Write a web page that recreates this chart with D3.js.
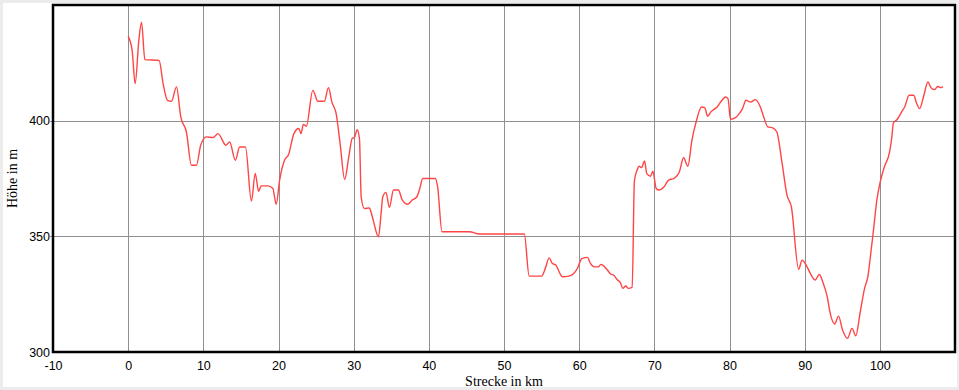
<!DOCTYPE html>
<html><head><meta charset="utf-8">
<script src="https://cdn.jsdelivr.net/npm/d3@7"></script>
<style>
html,body{margin:0;padding:0;background:#ececec;}
svg{display:block;}
</style></head><body>
<svg id="chart" width="959" height="390"></svg>
<script>
// Data
const km = [0,0.53,0.93,1.42,1.78,2.22,4.12,4.65,5.23,5.76,6.43,7.0,7.75,8.42,9.08,9.65,10.4,11.3,11.95,13.0,13.5,14.26,14.83,15.6,16.4,16.9,17.36,17.7,18.6,19.25,19.7,20.15,20.8,21.34,22.05,22.7,23.0,23.3,23.7,24.57,25.23,26.1,26.65,27.1,27.67,28.2,28.8,29.35,29.8,30.1,30.46,30.77,31.0,31.43,32.1,32.3,32.6,33.3,33.65,33.87,34.3,34.75,35.3,35.95,36.44,37.2,37.77,38.4,38.74,39.2,40.86,41.17,41.75,45.4,46.7,52.7,53.35,55.0,55.56,56.0,56.44,56.9,57.33,57.77,58.66,59.3,59.76,60.35,61.1,61.5,62.0,62.55,62.9,63.6,64.2,64.6,65.1,65.5,65.8,66.2,66.5,67.05,67.35,67.7,68.0,68.3,68.7,69.0,69.5,69.8,70.25,70.6,71.3,71.9,72.6,73.3,73.9,74.46,75.0,75.5,76.3,76.7,77.1,77.5,78.35,79.0,79.47,79.8,80.13,80.8,81.23,81.7,82.2,82.8,83.45,84.1,84.55,85.1,85.75,86.3,87.0,87.65,88.23,89.2,89.65,90.2,90.75,91.4,91.95,92.4,93.0,93.4,94.0,94.5,95.04,95.7,96.3,96.8,97.4,97.97,98.4,98.7,99.2,99.6,100.05,100.6,101.3,101.6,101.8,102.3,102.9,103.3,103.9,104.5,104.9,105.3,105.8,106.4,106.8,107.25,107.7,108.15,108.4];
const hoehe = [436.4,430.4,416,434.7,442.6,426.4,426,416,408.8,408.4,414.6,401.6,395.1,380.7,380.7,389.4,393,392.7,394.4,389.4,390.8,382.9,388.6,388.6,365.2,377.2,369.5,371.8,371.8,370.7,363.9,374.3,382.9,385.4,394.4,396.6,394.4,398.4,397.6,413.1,408.4,408.4,414.3,408.1,403,390,374.6,384.3,392.3,392.7,396.1,392.3,367,362,362.3,360.6,357,349.8,359.9,367,369,362.5,370,370,365.9,363.9,365.6,367,370,375,375,371.4,352,352,351,351,332.8,332.8,336.8,340.7,338.3,337.6,334.7,332.5,332.8,334,336.1,340.4,340.9,338.3,336.8,336.8,337.9,336.1,333.7,333.2,331.1,329.9,327.5,328.5,327.5,327.9,374,378.6,380.3,379.7,382.6,377.1,376,378.2,370.7,370,371.4,374.3,375,377.6,384,380.3,391.5,398.7,405.9,405.6,401.9,403.7,405.9,408.8,410.2,409.5,400.6,401.3,402.8,405,408.8,408,409.1,405.9,401.6,397.3,396.9,395.1,381.5,367.8,362.7,335.7,339.7,337.6,334,331.1,333.5,330.4,323.9,316.7,312.1,315.5,309.5,305.9,310.2,307,317.4,327.5,332.5,340,354,365.6,373.5,380,386.5,393,399,400.5,403.8,405.9,411,411,407.4,405.2,410.2,416.7,414.3,413.4,414.8,414.3,414.8];
const xTicks = [-10,0,10,20,30,40,50,60,70,80,90,100];
const yTicks = [300,350,400];
const xTitle = "Strecke in km";
const yTitle = "Höhe in m";

const svg = d3.select("#chart");
const L = 53, R = 955, T = 5, B = 352;
const x = d3.scaleLinear().domain([-10, 110]).range([L, R]);
const y = d3.scaleLinear().domain([300, 450]).range([B, T]);

// panel
svg.append("rect").attr("x",3).attr("y",3).attr("width",954).attr("height",384).attr("fill","#fff");
svg.append("rect").attr("x",L).attr("y",T).attr("width",R-L).attr("height",B-T).attr("fill","#fff");

// grid
svg.append("g").selectAll("line").data(xTicks.filter(d=>d>-10)).join("line")
  .attr("x1",d=>Math.round(x(d))+0.5).attr("x2",d=>Math.round(x(d))+0.5)
  .attr("y1",T).attr("y2",B).attr("stroke","#8f8f8f").attr("stroke-width",1);
svg.append("g").selectAll("line").data(yTicks.filter(d=>d>300)).join("line")
  .attr("x1",L-3).attr("x2",R).attr("y1",d=>Math.round(y(d))+0.5).attr("y2",d=>Math.round(y(d))+0.5)
  .attr("stroke","#8f8f8f").attr("stroke-width",1);

// line
const pts = km.map((k,i)=>[k,hoehe[i]]);
svg.append("path").datum(pts)
  .attr("fill","none").attr("stroke","#ff4545").attr("stroke-width",1.4)
  .attr("d", d3.line().x(d=>x(d[0])).y(d=>y(d[1])).curve(d3.curveMonotoneX));

// border
svg.append("rect").attr("x",L).attr("y",T).attr("width",R-L).attr("height",B-T)
  .attr("fill","none").attr("stroke","#000").attr("stroke-width",2.5);

// axes labels via d3 axes
const xAxis = d3.axisBottom(x).tickValues(xTicks).tickSize(0).tickPadding(9).tickFormat(d => String(d));
const gx = svg.append("g").attr("transform",`translate(0,${B})`).call(xAxis);
gx.select(".domain").remove();
gx.selectAll("text").attr("font-family","'Liberation Sans', Arial, sans-serif").attr("font-size","12.5px").attr("fill","#000");

const yAxis = d3.axisLeft(y).tickValues(yTicks).tickSize(0).tickPadding(3).tickFormat(d => String(d));
const gy = svg.append("g").attr("transform",`translate(${L},0)`).call(yAxis);
gy.select(".domain").remove();
gy.selectAll("text").attr("font-family","'Liberation Sans', Arial, sans-serif").attr("font-size","12.5px").attr("fill","#000");

svg.append("text").attr("x",(L+R)/2).attr("y",386).attr("text-anchor","middle")
  .attr("font-family","'Liberation Serif', 'Times New Roman', serif").attr("font-size","14px").text(xTitle);
svg.append("text").attr("transform",`translate(17,${(T+B)/2}) rotate(-90)`).attr("text-anchor","middle")
  .attr("font-family","'Liberation Serif', 'Times New Roman', serif").attr("font-size","14px").text(yTitle);
</script>
</body></html>
